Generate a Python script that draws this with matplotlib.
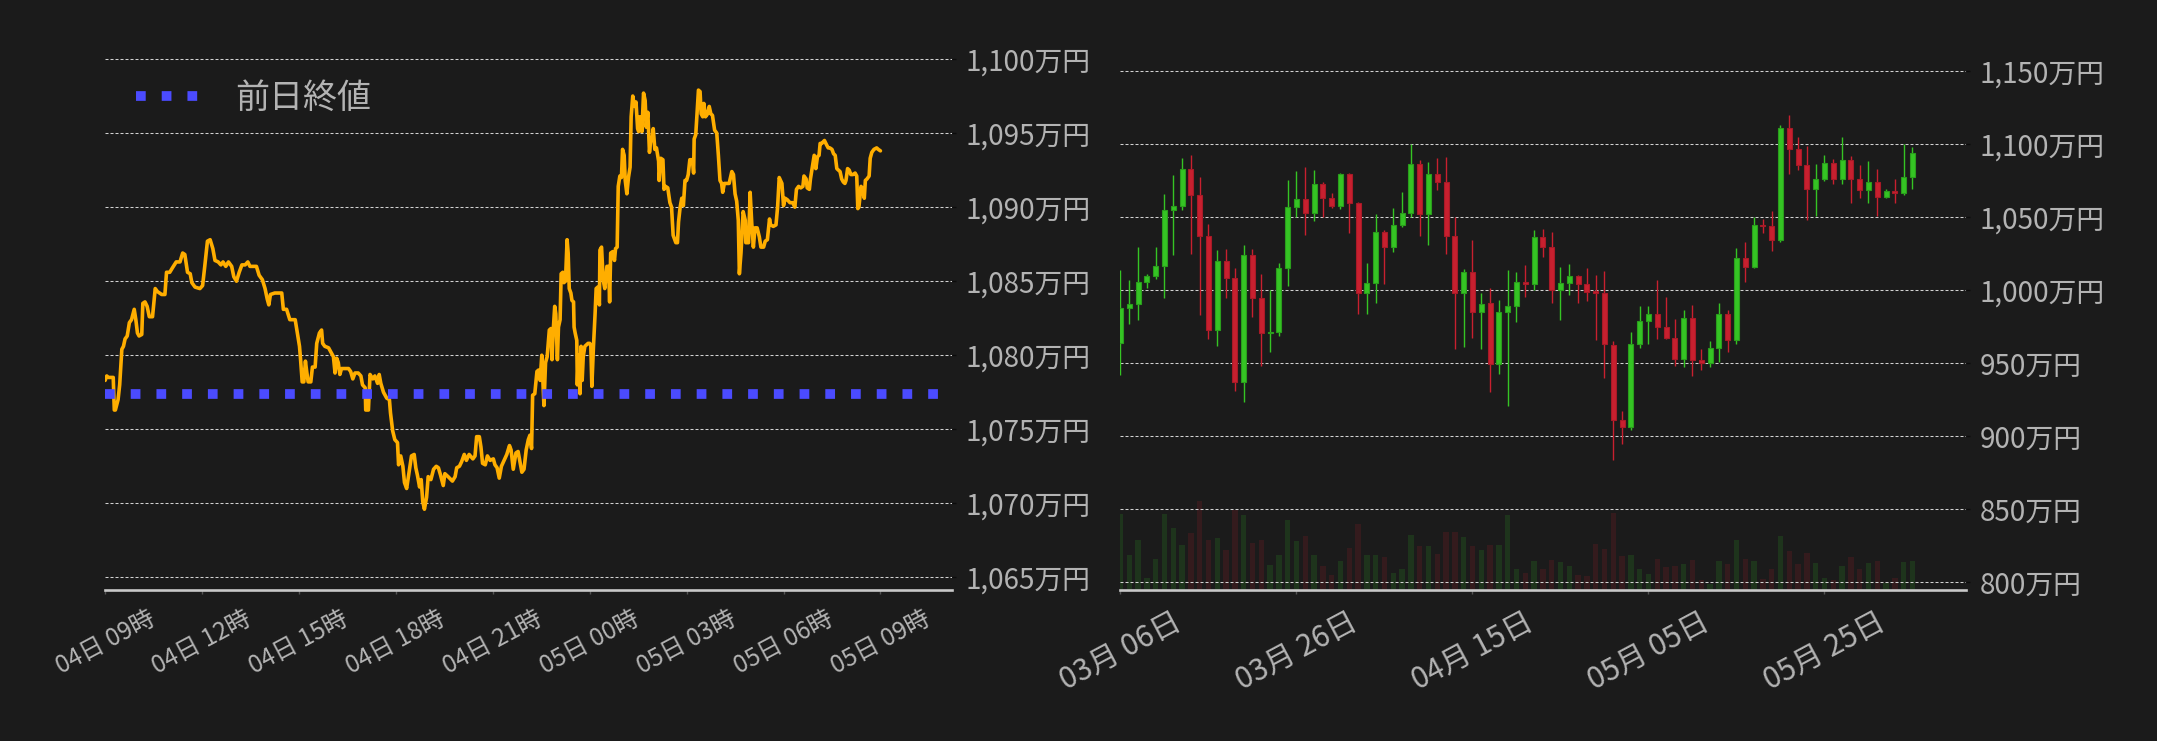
import numpy as np
import pandas as pd
import matplotlib
matplotlib.use("Agg")
import matplotlib.pyplot as plt
import matplotlib.dates as mdates
from matplotlib.ticker import FuncFormatter

plt.rcParams['font.family'] = ['Noto Sans CJK JP', 'DejaVu Sans']

# ---------------- intraday (04日 09:00 -> 05日 09:00), minutes after 04日 09:00, price in 万円
intraday_minutes = [
    0, 3, 6, 15, 17, 19, 24, 27, 31, 34, 37, 41, 45, 49, 54, 57, 60, 63, 68, 70,
    74, 78, 82, 88, 93, 97, 105, 111, 114, 120, 125, 132, 139, 144, 148, 153, 158, 161, 167, 176,
    181, 185, 190, 195, 200, 204, 210, 215, 219, 224, 229, 235, 239, 244, 249, 254, 260, 265, 269, 281,
    286, 292, 297, 301, 304, 307, 315, 328, 331, 337, 343, 353, 357, 361, 363, 366, 369, 372, 374, 377,
    382, 385, 390, 393, 398, 402, 404, 408, 415, 421, 424, 427, 430, 433, 436, 439, 445, 452, 456, 460,
    464, 470, 475, 478, 483, 484, 489, 492, 497, 501, 506, 509, 512, 517, 523, 528, 530, 534, 538, 543,
    545, 549, 553, 556, 560, 564, 569, 574, 577, 580, 584, 587, 590, 593, 597, 600, 605, 610, 615, 619,
    623, 628, 631, 637, 645, 650, 653, 658, 662, 667, 671, 676, 683, 687, 690, 695, 698, 701, 706, 710,
    715, 721, 724, 728, 732, 736, 741, 746, 751, 754, 758, 763, 767, 771, 774, 778, 782, 786, 789, 792,
    794, 798, 802, 805, 808, 811, 813, 815, 818, 821, 825, 828, 830, 832, 835, 837, 840, 842, 845, 847,
    850, 852, 855, 858, 860, 862, 865, 867, 870, 871, 873, 876, 877, 879, 882, 884, 886, 888, 891, 894,
    897, 900, 902, 904, 907, 910, 912, 915, 918, 919, 922, 925, 928, 932, 935, 937, 939, 943, 946, 948,
    951, 953, 956, 959, 961, 964, 966, 969, 972, 975, 977, 980, 983, 986, 989, 991, 993, 997, 1000, 1003,
    1005, 1008, 1011, 1013, 1016, 1018, 1021, 1024, 1028, 1029, 1032, 1036, 1038, 1041, 1045, 1049, 1052, 1055, 1060, 1063,
    1065, 1068, 1071, 1074, 1077, 1080, 1083, 1086, 1091, 1093, 1094, 1097, 1099, 1102, 1105, 1107, 1110, 1112, 1115, 1119,
    1122, 1125, 1128, 1132, 1136, 1139, 1142, 1145, 1147, 1150, 1154, 1159, 1164, 1167, 1170, 1173, 1176, 1178, 1181, 1185,
    1189, 1190, 1195, 1198, 1201, 1204, 1207, 1211, 1215, 1218, 1223, 1226, 1230, 1234, 1236, 1241, 1246, 1249, 1252, 1257,
    1260, 1263, 1267, 1272, 1277, 1281, 1284, 1288, 1292, 1296, 1298, 1302, 1304, 1308, 1310, 1314, 1317, 1320, 1323, 1326,
    1328, 1331, 1336, 1340, 1343, 1346, 1350, 1353, 1356, 1359, 1362, 1365, 1368, 1371, 1374, 1376, 1379, 1382, 1385, 1389,
    1393, 1396, 1398, 1400, 1404, 1407, 1410, 1412, 1415, 1419, 1421, 1424, 1428, 1433, 1436, 1440,
]
intraday_price = [
    1078.3, 1078.6, 1078.5, 1078.5, 1076.3, 1076.3, 1077.0, 1078.0, 1080.4, 1080.6, 1081.1, 1081.3, 1082.2, 1082.4, 1083.1, 1082.4, 1081.5, 1081.3, 1081.4, 1083.5,
    1083.6, 1083.3, 1082.6, 1082.6, 1084.5, 1084.3, 1084.1, 1084.1, 1085.6, 1085.6, 1085.9, 1086.3, 1086.3, 1086.9, 1086.8, 1085.6, 1085.5, 1084.9, 1084.6, 1084.5,
    1084.7, 1086.0, 1087.7, 1087.8, 1087.2, 1086.4, 1086.3, 1086.1, 1086.3, 1086.0, 1086.3, 1086.0, 1085.3, 1085.0, 1085.6, 1086.1, 1086.1, 1086.3, 1086.0, 1086.0,
    1085.4, 1085.1, 1084.5, 1083.8, 1083.4, 1084.1, 1084.2, 1084.2, 1083.1, 1083.1, 1082.4, 1082.4, 1081.5, 1080.6, 1079.7, 1078.2, 1078.2, 1079.6, 1079.0, 1078.2,
    1078.2, 1079.2, 1079.2, 1080.8, 1081.5, 1081.7, 1080.8, 1080.6, 1080.5, 1080.1, 1079.9, 1078.8, 1079.8, 1079.5, 1078.7, 1079.1, 1079.1, 1079.1, 1078.9, 1078.4,
    1078.8, 1078.8, 1078.6, 1078.0, 1077.8, 1076.3, 1076.3, 1078.7, 1078.4, 1078.6, 1078.1, 1078.7, 1078.1, 1077.5, 1077.1, 1077.0, 1076.1, 1074.9, 1074.3, 1074.1,
    1072.6, 1073.2, 1072.5, 1071.4, 1071.0, 1072.0, 1073.2, 1073.3, 1072.4, 1071.9, 1071.1, 1071.6, 1070.1, 1069.6, 1070.4, 1071.8, 1071.6, 1072.3, 1072.5, 1072.4,
    1071.9, 1071.2, 1072.0, 1071.8, 1071.5, 1071.8, 1072.4, 1072.5, 1072.8, 1073.3, 1072.9, 1073.3, 1073.0, 1073.2, 1074.5, 1074.5, 1073.8, 1072.7, 1072.6, 1073.2,
    1072.9, 1073.0, 1072.6, 1072.4, 1071.7, 1072.5, 1072.9, 1073.3, 1073.9, 1073.6, 1072.3, 1073.4, 1073.5, 1072.7, 1072.1, 1072.3, 1073.6, 1074.3, 1074.6, 1073.7,
    1077.3, 1077.4, 1078.9, 1079.0, 1078.3, 1080.0, 1078.3, 1076.6, 1079.5, 1079.9, 1081.7, 1081.8, 1079.7, 1081.5, 1083.3, 1082.8, 1079.7, 1081.9, 1082.4, 1085.5,
    1085.6, 1084.9, 1085.0, 1087.8, 1086.9, 1084.5, 1084.2, 1083.7, 1083.6, 1081.9, 1081.5, 1081.0, 1078.0, 1080.0, 1077.4, 1080.6, 1078.3, 1079.9, 1080.6, 1080.7,
    1080.8, 1080.8, 1080.7, 1077.9, 1080.6, 1082.8, 1084.5, 1084.6, 1083.4, 1087.1, 1087.3, 1085.1, 1084.5, 1086.0, 1086.0, 1083.6, 1086.9, 1087.0, 1086.4, 1087.2,
    1087.3, 1091.4, 1092.1, 1092.0, 1093.9, 1093.5, 1091.8, 1090.9, 1092.0, 1092.7, 1096.1, 1097.5, 1096.8, 1097.1, 1095.3, 1095.1, 1096.1, 1095.1, 1097.7, 1097.2,
    1095.4, 1096.4, 1093.7, 1094.4, 1094.6, 1095.3, 1093.9, 1094.0, 1093.1, 1091.8, 1093.3, 1093.2, 1091.2, 1091.4, 1091.3, 1090.3, 1090.0, 1088.1, 1087.6, 1087.6,
    1089.0, 1090.0, 1090.6, 1090.1, 1091.8, 1091.8, 1092.2, 1093.2, 1093.2, 1092.3, 1094.6, 1094.9, 1096.1, 1097.9, 1097.8, 1096.3, 1096.1, 1097.0, 1096.1, 1096.3,
    1096.8, 1096.3, 1096.2, 1095.2, 1095.0, 1093.5, 1091.8, 1091.6, 1091.0, 1091.6, 1091.6, 1091.6, 1092.4, 1092.2, 1090.9, 1090.4, 1089.1, 1085.5, 1086.9, 1089.7,
    1089.1, 1087.6, 1087.6, 1091.0, 1088.9, 1087.3, 1088.6, 1088.6, 1088.0, 1087.3, 1087.3, 1087.7, 1087.8, 1089.2, 1088.8, 1088.7, 1088.8, 1090.0, 1092.0, 1091.6,
    1090.1, 1090.6, 1090.5, 1090.3, 1090.3, 1090.0, 1091.2, 1091.4, 1091.3, 1091.4, 1092.1, 1091.9, 1091.3, 1091.2, 1091.9, 1092.8, 1093.5, 1092.6, 1093.4, 1093.5,
    1094.3, 1094.3, 1094.5, 1094.2, 1094.0, 1094.0, 1093.9, 1093.6, 1093.5, 1092.6, 1092.5, 1092.4, 1091.9, 1091.7, 1091.6, 1091.8, 1092.6, 1092.5, 1092.2, 1092.2,
    1092.3, 1092.1, 1089.9, 1090.0, 1091.4, 1091.2, 1090.6, 1091.8, 1091.9, 1092.1, 1093.3, 1093.7, 1093.9, 1094.0, 1093.9, 1093.8,
]
prev_close = 1077.4
intraday_tick_hours = [0, 3, 6, 9, 12, 15, 18, 21, 24]
intraday_tick_labels = ['04日 09時', '04日 12時', '04日 15時', '04日 18時', '04日 21時',
                        '05日 00時', '05日 03時', '05日 06時', '05日 09時']
intraday_yticks = [1065, 1070, 1075, 1080, 1085, 1090, 1095, 1100]

# ---------------- daily candles from 03-06, price in 万円
daily_start = '2024-03-06'
daily_open = [
    964, 988, 990.5, 1005.5, 1009.5, 1017, 1055, 1057.5, 1083, 1065,
    1037, 973, 1020, 1008.5, 937.5, 1024, 995, 971, 971.5, 1015,
    1057, 1062.5, 1053, 1072.5, 1063, 1057.5, 1080, 1060, 998.5, 1005,
    1040, 1030, 1045, 1053, 1086.5, 1052, 1080, 1074.5, 1037.5, 998,
    1012.5, 985, 991, 949.5, 985, 989, 1006, 1004.5, 1036.5, 1030,
    1000.5, 1005, 1009.5, 1004, 999.5, 998.5, 962.5, 911.5, 906.5, 963.5,
    979, 984, 975, 967.5, 953, 981, 952, 950, 960.5, 983.5,
    966, 1022, 1016, 1044.5, 1044, 1034.5, 1111.5, 1097, 1085.5, 1069.5,
    1076.5, 1087.5, 1076, 1089.5, 1076.5, 1068.5, 1074.5, 1064, 1068, 1066.5,
    1077.5,
]
daily_high = [
    1014, 1007, 1030, 1011, 1030, 1066, 1079, 1090.5, 1092.5, 1077.5,
    1045.5, 1027.5, 1028.5, 1015, 1031, 1028.5, 1011, 1000, 1019, 1075.5,
    1081.5, 1084.5, 1082.5, 1074, 1067, 1080.5, 1080.5, 1060.5, 1019, 1052,
    1041, 1056.5, 1067.5, 1100, 1089.5, 1088, 1090.5, 1091.5, 1050, 1014.5,
    1034.5, 998, 1001.5, 993.5, 1014, 1012.5, 1017.5, 1041.5, 1042, 1040,
    1016, 1018, 1010.5, 1015.5, 1010.5, 1013, 965, 917.5, 971.5, 989.5,
    989.5, 1007, 995.5, 980.5, 986.5, 990, 960, 965.5, 991.5, 986.5,
    1029, 1033, 1050, 1049, 1054.5, 1113, 1120, 1105, 1099, 1086.5,
    1092.5, 1090, 1105, 1092, 1086, 1088.5, 1083, 1069.5, 1076.5, 1100,
    1098,
]
daily_low = [
    942, 977, 980, 1001.5, 1008, 995, 1024.5, 1055, 1025, 983,
    966.5, 962, 994.5, 931, 923.5, 982, 948.5, 957.5, 968.5, 1003,
    1050, 1038, 1047.5, 1050, 1056.5, 1056, 1039, 983.5, 984, 991.5,
    1004.5, 1026, 1043.5, 1050, 1037.5, 1031, 1068.5, 1025, 960, 961.5,
    967.5, 960, 930.5, 943, 921, 978, 995.5, 1000, 1022.5, 991,
    979.5, 996.5, 991, 993, 966, 940, 883.5, 894.5, 904.5, 960.5,
    963.5, 967, 967, 948.5, 947.5, 941, 945.5, 947.5, 951, 958,
    963, 1005.5, 1015.5, 1039.5, 1027, 1033, 1080, 1082.5, 1048.5, 1051,
    1075, 1072.5, 1072.5, 1060, 1063, 1059.5, 1051, 1063, 1060, 1065,
    1069.5,
]
daily_close = [
    988, 990.5, 1005.5, 1009.5, 1017, 1055, 1057.5, 1083, 1065, 1037,
    973, 1020, 1008.5, 937.5, 1024, 995, 971, 971.5, 1015, 1057,
    1062.5, 1053, 1072.5, 1063, 1057.5, 1080, 1060, 998.5, 1005, 1040,
    1030, 1045, 1053, 1086.5, 1052, 1080, 1074.5, 1037.5, 998, 1012.5,
    985, 990.5, 949.5, 985, 989, 1006, 1004.5, 1036.5, 1030, 1000.5,
    1005, 1009.5, 1004, 999, 998.5, 963, 911.5, 906.5, 963.5, 979,
    984, 975, 967.5, 953, 981, 952, 950, 960.5, 983.5, 966,
    1022, 1016, 1044.5, 1044, 1034.5, 1111.5, 1097, 1085.5, 1069.5, 1076.5,
    1087.5, 1076, 1089.5, 1076.5, 1068.5, 1074.5, 1064, 1068, 1066.5, 1077.5,
    1094,
]
daily_volume = [
    225, 102, 149, 35, 92, 225, 183, 132, 168, 264,
    147, 153, 119, 239, 222, 139, 149, 72, 102, 207,
    144, 159, 104, 69, 42, 84, 123, 197, 104, 104,
    96, 48, 62, 162, 129, 129, 105, 171, 171, 156,
    129, 117, 132, 132, 222, 62, 48, 84, 62, 87,
    81, 69, 42, 39, 136, 120, 229, 99, 102, 62,
    45, 90, 66, 69, 75, 87, 29, 17, 84, 75,
    147, 92, 84, 32, 60, 159, 114, 75, 108, 78,
    33, 29, 69, 96, 60, 78, 84, 19, 35, 81,
    84,
]
daily_tick_dates = ['2024-03-06', '2024-03-26', '2024-04-15', '2024-05-05', '2024-05-25']
daily_yticks = [800, 850, 900, 950, 1000, 1050, 1100, 1150]

# ---------------- style
BG = '#1b1b1b'
TXT = '#b3b3b3'
GRID = '#d2d2d2'
UP = '#35c424'
DOWN = '#c8202f'
LINE = '#ffae00'
PREV = '#4b4bff'

W, H = 2157, 741
fig = plt.figure(figsize=(W / 100, H / 100), dpi=100, facecolor=BG)
ax1 = fig.add_axes([104.5 / W, 151.5 / H, 847 / W, 539.5 / H])
ax2 = fig.add_axes([1119.5 / W, 151.5 / H, 846.5 / W, 539.5 / H])

yen_fmt = FuncFormatter(lambda v, _: f'{v:,.0f}万円')


def style_axes(ax):
    ax.set_facecolor(BG)
    for side in ('top', 'left', 'right'):
        ax.spines[side].set_visible(False)
    ax.spines['bottom'].set_color('#c8c8c8')
    ax.spines['bottom'].set_linewidth(1.9)
    ax.spines['bottom'].set_zorder(6)
    ax.yaxis.tick_right()
    ax.yaxis.set_major_formatter(yen_fmt)
    ax.grid(axis='y', color=GRID, linewidth=0.75, linestyle=(0, (2.9, 1.9)))
    ax.grid(axis='x', visible=False)
    ax.set_axisbelow(True)
    ax.tick_params(axis='y', length=3, width=1, color='#0c0c0c', pad=7,
                   labelsize=20, labelcolor=TXT)
    ax.tick_params(axis='x', length=3, width=1, color='#555555', pad=9,
                   labelcolor=TXT)


# ---------------- left: intraday line
style_axes(ax1)
hours = np.asarray(intraday_minutes) / 60.0
ax1.plot(hours, intraday_price, color=LINE, linewidth=2.6,
         solid_joinstyle='round', solid_capstyle='round', zorder=3)
ax1.axhline(prev_close, color=PREV, linewidth=7, linestyle=(0, (1, 1.646)),
            dash_capstyle='butt', zorder=4, label='前日終値')
ax1.set_xlim(-0.02, 26.2)
ax1.set_ylim(1064.18, 1100.61)
ax1.set_yticks(intraday_yticks)
ax1.set_xticks(intraday_tick_hours)
ax1.set_xticklabels(intraday_tick_labels, rotation=28, ha='center')
ax1.tick_params(axis='x', labelsize=17.5)
leg = ax1.legend(loc='center left', bbox_to_anchor=(136 / W, 1 - 98.5 / H),
                 bbox_transform=fig.transFigure, frameon=False, fontsize=24.5,
                 handlelength=1.82, handletextpad=1.09, borderpad=0,
                 borderaxespad=0, labelcolor=TXT)

# ---------------- right: daily candles with volume
style_axes(ax2)
dates = pd.date_range(daily_start, periods=len(daily_open), freq='D')
o = np.asarray(daily_open, float)
h = np.asarray(daily_high, float)
l = np.asarray(daily_low, float)
c = np.asarray(daily_close, float)
up = c >= o
colors = np.where(up, UP, DOWN)
edges = np.where(up, '#2a9e1c', '#a81a27')

axv = ax2.twinx()
axv.set_zorder(ax2.get_zorder() - 1)
ax2.patch.set_visible(False)
axv.set_axis_off()
ax2.yaxis.tick_right()
axv.bar(dates, daily_volume, width=0.6, color=colors, alpha=0.15, linewidth=0)
axv.set_ylim(0, max(daily_volume) * 6.13)

ax2.vlines(dates, l, h, colors=colors, linewidth=1.0, zorder=3)
body_bottom = np.minimum(o, c)
body_height = np.maximum(np.abs(c - o), 0.8)
ax2.bar(dates, body_height, bottom=body_bottom, width=0.58, color=colors,
        edgecolor=edges, linewidth=0.8, zorder=4)

ax2.set_xlim(mdates.date2num(pd.Timestamp(daily_start)) - 0.11,
             mdates.date2num(pd.Timestamp(daily_start)) + 96.08)
axv.set_xlim(ax2.get_xlim())
ax2.set_ylim(795.1, 1164.6)
ax2.set_yticks(daily_yticks)
ax2.set_xticks(pd.to_datetime(daily_tick_dates))
ax2.xaxis.set_major_formatter(mdates.DateFormatter('%m月 %d日'))
ax2.tick_params(axis='x', labelsize=21.5)
for lab in ax2.get_xticklabels():
    lab.set_rotation(28)
    lab.set_ha('center')

fig.savefig('out.png', dpi=100, facecolor=BG)
